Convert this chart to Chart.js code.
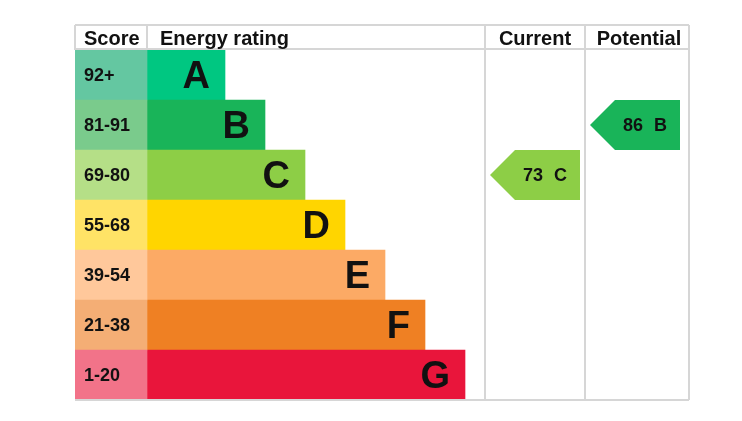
<!DOCTYPE html>
<html>
<head>
<meta charset="utf-8">
<script src="https://cdn.jsdelivr.net/npm/chart.js@4.4.0/dist/chart.umd.min.js"></script>
<style>
  html, body { margin: 0; padding: 0; background: #fff; }
  canvas { display: block; }
</style>
</head>
<body>
<canvas id="epc" width="742" height="421"></canvas>
<script>
// --- DATA ---
const BANDS = ['A', 'B', 'C', 'D', 'E', 'F', 'G'];
const SCORE_LABELS = ['92+', '81-91', '69-80', '55-68', '39-54', '21-38', '1-20'];
const BAND_MIN = [92, 81, 69, 55, 39, 21, 1];
const BAR_END = [150, 190, 230, 270, 310, 350, 390]; // right end of each rating bar (x units)
const CURRENT_SCORE = 73;
const POTENTIAL_SCORE = 86;
const HEADERS = ['Score', 'Energy rating', 'Current', 'Potential'];

// --- LAYOUT (x units, 1 unit = 1px) ---
const X_MAX = 614;
const SCORE_COL = 72;
const CURRENT_COL = [410, 510];
const POTENTIAL_COL = [510, 614];
const CURRENT_ARROW = [415, 505];
const POTENTIAL_ARROW = [515, 605];

// --- COLOURS ---
const SCORE_COLORS = ['#64c7a1', '#7acb8c', '#b5df87', '#ffe366', '#ffc89b', '#f4ae75', '#f27389'];
const BAND_COLORS = ['#00c781', '#19b459', '#8dce46', '#ffd500', '#fcaa65', '#ef8023', '#e9153b'];
const GRID = '#d6d6d6';
const INK = '#111';
const FONT = '"Liberation Sans", Arial, sans-serif';

function bandIndex(score) {
    return BAND_MIN.findIndex(m => score >= m);
}

// Plugin: grille, textes, flèches
const epcPlugin = {
    id: 'epc',
    afterDraw(chart) {
        const { ctx, chartArea: a, scales: { x, y } } = chart;
        const rowH = (a.bottom - a.top) / BANDS.length;
        const hdrTop = a.top - 25;
        ctx.save();

        // grid lines
        ctx.strokeStyle = GRID;
        ctx.lineWidth = 2;
        ctx.beginPath();
        ctx.moveTo(a.left, hdrTop); ctx.lineTo(a.right, hdrTop);
        ctx.moveTo(a.left, a.top - 1); ctx.lineTo(a.right, a.top - 1);
        ctx.moveTo(a.left, a.bottom); ctx.lineTo(a.right, a.bottom);
        [CURRENT_COL[0], POTENTIAL_COL[0]].forEach(v => {
            const px = x.getPixelForValue(v);
            ctx.moveTo(px, hdrTop); ctx.lineTo(px, a.bottom);
        });
        ctx.moveTo(a.right, hdrTop); ctx.lineTo(a.right, a.bottom);
        ctx.moveTo(x.getPixelForValue(SCORE_COL), hdrTop); ctx.lineTo(x.getPixelForValue(SCORE_COL), a.top);
        ctx.moveTo(a.left, hdrTop); ctx.lineTo(a.left, a.top);
        ctx.stroke();

        // headers
        ctx.fillStyle = INK;
        ctx.font = 'bold 20px ' + FONT;
        ctx.textBaseline = 'alphabetic';
        const hy = hdrTop + 20;
        ctx.textAlign = 'left';
        ctx.fillText(HEADERS[0], a.left + 9, hy);
        ctx.fillText(HEADERS[1], x.getPixelForValue(SCORE_COL) + 13, hy);
        ctx.textAlign = 'center';
        ctx.fillText(HEADERS[2], x.getPixelForValue((CURRENT_COL[0] + CURRENT_COL[1]) / 2), hy);
        ctx.fillText(HEADERS[3], x.getPixelForValue((POTENTIAL_COL[0] + POTENTIAL_COL[1]) / 2) + 2, hy);

        // score labels + band letters
        BANDS.forEach((b, i) => {
            const yc = y.getPixelForValue(i);
            ctx.textAlign = 'left';
            ctx.font = 'bold 18px ' + FONT;
            ctx.fillText(SCORE_LABELS[i], a.left + 9, yc + 6);
            ctx.textAlign = 'right';
            ctx.font = 'bold 38px ' + FONT;
            ctx.fillText(b, x.getPixelForValue(BAR_END[i]) - 15, yc + 13);
        });

        // arrows
        const drawArrow = (score, span) => {
            const idx = bandIndex(score);
            const yc = y.getPixelForValue(idx);
            const half = rowH / 2;
            const tip = x.getPixelForValue(span[0]);
            const right = x.getPixelForValue(span[1]);
            const body = tip + half;
            ctx.fillStyle = BAND_COLORS[idx];
            ctx.beginPath();
            ctx.moveTo(tip, yc);
            ctx.lineTo(body, yc - half);
            ctx.lineTo(right, yc - half);
            ctx.lineTo(right, yc + half);
            ctx.lineTo(body, yc + half);
            ctx.closePath();
            ctx.fill();
            ctx.fillStyle = INK;
            ctx.font = 'bold 18px ' + FONT;
            ctx.textAlign = 'right';
            ctx.fillText(String(score), body + 28, yc + 6);
            ctx.textAlign = 'left';
            ctx.fillText(BANDS[idx], body + 39, yc + 6);
        };
        drawArrow(CURRENT_SCORE, CURRENT_ARROW);
        drawArrow(POTENTIAL_SCORE, POTENTIAL_ARROW);

        ctx.restore();
    }
};

new Chart(document.getElementById('epc').getContext('2d'), {
    type: 'bar',
    data: {
        labels: BANDS,
        datasets: [
            {
                data: BANDS.map(() => [0, SCORE_COL]),
                backgroundColor: SCORE_COLORS,
                grouped: false, barPercentage: 1, categoryPercentage: 1, borderWidth: 0
            },
            {
                data: BAR_END.map(e => [SCORE_COL, e]),
                backgroundColor: BAND_COLORS,
                grouped: false, barPercentage: 1, categoryPercentage: 1, borderWidth: 0
            }
        ]
    },
    options: {
        indexAxis: 'y',
        responsive: false,
        devicePixelRatio: 1,
        animation: false,
        events: [],
        layout: { padding: { left: 75, right: 53, top: 50, bottom: 21 } },
        plugins: { legend: { display: false }, tooltip: { enabled: false } },
        scales: {
            x: { type: 'linear', min: 0, max: X_MAX, display: false },
            y: { display: false }
        }
    },
    plugins: [epcPlugin]
});
</script>
</body>
</html>
